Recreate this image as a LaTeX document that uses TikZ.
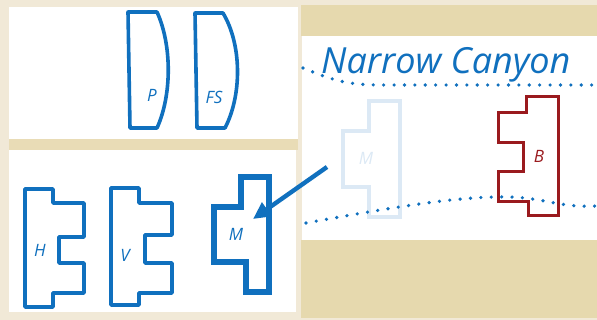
\documentclass[tikz,border=0pt]{standalone}
\usepackage{fontspec}
\setmainfont{Open Sans}
\usetikzlibrary{arrows.meta}
\definecolor{paper}{HTML}{F1E9D7}
\definecolor{tan}{HTML}{E6D9AE}
\definecolor{sep}{HTML}{E9DCB6}
\definecolor{pblue}{HTML}{1070BE}
\definecolor{fblue}{HTML}{DCE9F5}
\definecolor{bred}{HTML}{9A1A1E}
\tikzset{
  bshape/.style={draw=pblue,line width=3.6pt,line join=round},
  thickshape/.style={draw=pblue,line width=5.4pt,line join=miter},
  fadeshape/.style={draw=fblue,line width=3.8pt,line join=miter},
  redshape/.style={draw=bred,line width=3pt,line join=miter},
  lbl/.style={font=\fontsize{17}{17}\selectfont\itshape,text=pblue,inner sep=0pt},
  dotline/.style={draw=pblue,line width=3.6pt,line cap=round,dash pattern=on 0pt off 10.4pt},
  arrowline/.style={draw=pblue,line width=4.4pt,-{Triangle[length=17pt,width=16pt]}}
}
\begin{document}
\begin{tikzpicture}[x=1pt,y=-1pt]
\useasboundingbox (0,0) rectangle (597,320);
% paper background
\fill[paper] (0,0) rectangle (597,320);
% left panels
\fill[white] (9,7) rectangle (298,139);
\fill[sep] (9,139) rectangle (298,150);
\fill[white] (9,150) rectangle (296,312);
% right area
\fill[tan] (301,5) rectangle (597,36);
\fill[white] (302,36) rectangle (597,240);
\fill[tan] (301,240) rectangle (597,318);

% P and FS shapes
\draw[bshape] (128,12) -- (157,12) .. controls (172,45) and (172,95) .. (157,128) -- (130,128) -- cycle;
\node[lbl] (plabel) at (152,95) {P};
\draw[bshape] (195,13) -- (223,13) .. controls (242,45) and (242,95) .. (225,128) -- (197,128) -- cycle;
\node[lbl] (fslabel) at (214,97) {FS};

% H shape
\draw[bshape] (25,189) -- (53,189) -- (53,203) -- (84,203) -- (84,237) -- (59,237) -- (59,263) -- (84,263) -- (84,293) -- (53,293) -- (53,307) -- (25,307) -- cycle;
\node[lbl] (hlabel) at (40,250) {H};
% V shape
\draw[bshape] (111,188) -- (139,188) -- (139,203) -- (172,203) -- (172,235) -- (145,235) -- (145,263) -- (172,263) -- (172,293) -- (139,293) -- (139,305) -- (111,305) -- cycle;
\node[lbl] (vlabel) at (125,255) {V};
% M shape (thick)
\draw[thickshape] (241,177) -- (269,177) -- (269,292) -- (246,292) -- (246,262) -- (214,262) -- (214,207) -- (241,207) -- cycle;
\node[lbl] (mlabel) at (236,234) {M};

% faded M
\draw[fadeshape] (369,101) -- (400,101) -- (400,217) -- (369,217) -- (369,187) -- (343,187) -- (343,131) -- (369,131) -- cycle;
\node[lbl,text=fblue] (fmlabel) at (366,158) {M};

% B shape
\draw[redshape] (526,97) -- (558,97) -- (558,216) -- (528,216) -- (528,202) -- (498,202) -- (498,172) -- (523,172) -- (523,143) -- (498,143) -- (498,113) -- (526,113) -- cycle;
\node[lbl,text=bred] (blabel) at (539,156) {B};

% dotted lines
\coordinate (u0) at (303,68);
\coordinate (u1) at (597,85);
\draw[dotline] (u0) .. controls (330,79) and (345,85) .. (380,85) -- (u1);
\coordinate (l0) at (306,223);
\coordinate (l1) at (597,206);
\draw[dotline] (l0) .. controls (400,206) and (460,196) .. (510,197) .. controls (545,198) and (560,208) .. (l1);

% title
\node[font=\fontsize{36}{36}\selectfont\itshape,text=pblue,anchor=base west,inner sep=0pt] (title) at (321,74) {Narrow Canyon};

% arrow
\coordinate (astart) at (327,167);
\coordinate (atip) at (253,219);
\draw[arrowline] (astart) -- (atip);
\end{tikzpicture}
\end{document}
